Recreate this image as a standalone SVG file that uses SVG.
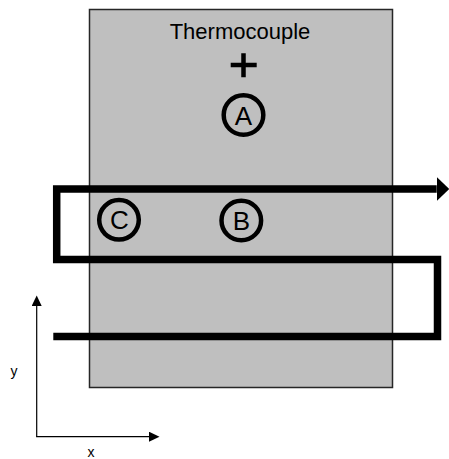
<svg xmlns="http://www.w3.org/2000/svg" width="449" height="459" viewBox="0 0 449 459">
<style>
.lbl{font-family:"Liberation Sans",Arial,sans-serif;fill:#000;}
.ring{fill:none;stroke:#000;stroke-width:4.5;}
.ax{fill:none;stroke:#000;stroke-width:1.2;}
.wire{fill:none;stroke:#000;stroke-width:7.5;stroke-linejoin:miter;stroke-linecap:butt;}
</style>
<defs>
<marker id="bigArrow" markerUnits="userSpaceOnUse" markerWidth="13" markerHeight="24" refX="0" refY="12" orient="auto">
<path d="M0,0 L12.5,12 L0,24 Z" fill="#000"/>
</marker>
<marker id="axArrow" markerUnits="userSpaceOnUse" markerWidth="11" markerHeight="10" refX="0" refY="5" orient="auto">
<path d="M0,0 L10.5,5 L0,10 Z" fill="#000"/>
</marker>
</defs>
<rect width="449" height="459" fill="#fff"/>
<g id="thermocouple">
<rect x="89.5" y="9.5" width="303" height="378" fill="#bfbfbf" stroke="#262626" stroke-width="1.5"/>
<text class="lbl" x="240" y="38.5" font-size="22" text-anchor="middle">Thermocouple</text>
<path d="M230.7,65 H256.7 M243.5,53.3 V77.3" stroke="#000" stroke-width="4.5" fill="none"/>
</g>
<g id="pointA">
<circle class="ring" cx="243.5" cy="115" r="19.8"/>
<text class="lbl" x="243.5" y="124.5" font-size="26" text-anchor="middle">A</text>
</g>
<g id="pointB">
<circle class="ring" cx="241.3" cy="220.5" r="19.8"/>
<text class="lbl" x="241.3" y="230" font-size="26" text-anchor="middle">B</text>
</g>
<g id="pointC">
<circle class="ring" cx="119" cy="219.8" r="19.8"/>
<text class="lbl" x="119.5" y="229.3" font-size="26" text-anchor="middle">C</text>
</g>
<g id="connectors">
<path class="wire" d="M53.3,336.5 H437.5 V259.5 H56.7 V189 H436.7" marker-end="url(#bigArrow)"/>
<path class="ax" d="M36.7,436.7 V306" marker-end="url(#axArrow)"/>
<path class="ax" d="M36.1,436.7 H149" marker-end="url(#axArrow)"/>
</g>
<g id="axis-labels">
<text class="lbl" x="14" y="376" font-size="14" text-anchor="middle">y</text>
<text class="lbl" x="91" y="457" font-size="14" text-anchor="middle">x</text>
</g>
</svg>
